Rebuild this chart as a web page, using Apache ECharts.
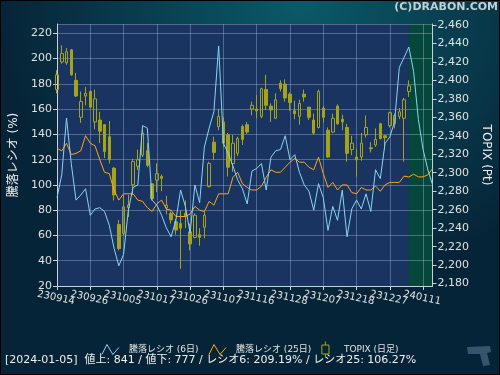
<!DOCTYPE html>
<html>
<head>
<meta charset="utf-8">
<title>騰落レシオ</title>
<script src="https://cdn.jsdelivr.net/npm/echarts@6/dist/echarts.min.js"></script>
<style>
  html, body { margin: 0; padding: 0; background: #062437; }
  #chart { width: 500px; height: 375px; }
</style>
</head>
<body>
<div id="chart"></div>
<script>
// trading days (yymmdd)
const dates = [
  '230914', '230915', '230919', '230920', '230921', '230922', '230925', '230926', '230927', '230928',
  '230929', '231002', '231003', '231004', '231005', '231006', '231010', '231011', '231012', '231013',
  '231016', '231017', '231018', '231019', '231020', '231023', '231024', '231025', '231026', '231027',
  '231030', '231031', '231101', '231102', '231106', '231107', '231108', '231109', '231110', '231113',
  '231114', '231115', '231116', '231117', '231120', '231121', '231122', '231124', '231127', '231128',
  '231129', '231130', '231201', '231204', '231205', '231206', '231207', '231208', '231211', '231212',
  '231213', '231214', '231215', '231218', '231219', '231220', '231221', '231222', '231225', '231226',
  '231227', '231228', '231229', '240104', '240105', '240109', '240110', '240111', '240112', '240115'
]

// 騰落レシオ (6日)
const ratio6 = [
  90, 108, 153, 117, 88, 92, 97, 76, 81, 82,
  79, 68, 50, 36, 45, 80, 98, 100, 147, 145,
  88, 84, 76, 66, 59, 72, 96, 83, 62, 100,
  86, 130, 145, 158, 210, 133, 125, 115, 104, 97,
  85, 111, 113, 117, 96, 122, 127, 128, 139, 120,
  124, 110, 100, 95, 80, 101, 90, 64, 83, 72,
  96, 59, 81, 88, 81, 93, 79, 112, 105, 133,
  138, 150, 193, 201, 209.19, 190, 152, 128, 112, 100
]

// 騰落レシオ (25日)
const ratio25 = [
  129, 127, 133, 124, 125, 127, 139, 133, 131, 120,
  110, 109, 96, 88, 93, 93, 93, 88, 87, 82,
  79, 85, 88, 81, 80, 75, 75, 75, 77, 83,
  80, 79, 87, 84, 93, 93, 93, 106, 110, 101,
  98, 96, 96, 99, 106, 112, 110, 110, 114, 118,
  121, 118, 118, 114, 112, 122, 109, 98, 102, 96,
  100, 100, 94, 93, 98, 96, 96, 99, 95, 100,
  102, 102, 102, 107, 106.27, 108.5, 106.4, 106.4, 108, 113
]

// TOPIX (日足)
const topixOpen = [
  2390, 2420, 2419, 2433, 2400, 2360, 2383, 2388, 2355, 2357,
  2352, 2339, 2305, 2244, 2234, 2262, 2287, 2307, 2319, 2324,
  2288, 2292, 2296, 2262, 2256, 2247, 2245, 2256, 2236, 2230,
  2233, 2241, 2285, 2333, 2350, 2355, 2341, 2310, 2321, 2350,
  2352, 2369, 2369, 2361, 2390, 2372, 2359, 2397, 2396, 2385,
  2367, 2361, 2385, 2371, 2357, 2349, 2370, 2346, 2344, 2372,
  2358, 2349, 2325, 2317, 2317, 2341, 2327, 2330, 2353, 2340,
  2351, 2353, 2361, 2359, 2388
]
const topixClose = [
  2406, 2429, 2431, 2406, 2383, 2377, 2386, 2371, 2380, 2345,
  2323, 2314, 2276, 2218, 2263, 2265, 2312, 2314, 2343, 2308,
  2272, 2299, 2294, 2265, 2249, 2238, 2240, 2253, 2223, 2254,
  2230, 2254, 2310, 2322, 2361, 2332, 2306, 2332, 2337, 2336,
  2344, 2373, 2367, 2391, 2373, 2368, 2379, 2391, 2381, 2376,
  2364, 2375, 2382, 2360, 2343, 2388, 2360, 2317, 2359, 2353,
  2355, 2321, 2332, 2314, 2332, 2349, 2326, 2336, 2337, 2338,
  2365, 2362, 2366, 2379, 2394
]
const topixLow = [
  2386, 2418, 2417, 2405, 2382, 2354, 2373, 2370, 2347, 2332,
  2316, 2310, 2270, 2216, 2232, 2252, 2276, 2303, 2317, 2306,
  2270, 2279, 2280, 2255, 2245, 2233, 2196, 2240, 2216, 2229,
  2221, 2229, 2284, 2314, 2346, 2328, 2296, 2301, 2318, 2330,
  2342, 2362, 2359, 2359, 2368, 2355, 2358, 2388, 2377, 2367,
  2358, 2352, 2377, 2357, 2341, 2348, 2355, 2316, 2343, 2352,
  2346, 2312, 2319, 2296, 2313, 2338, 2322, 2328, 2336, 2325,
  2349, 2348, 2358, 2312, 2382
]
const topixHigh = [
  2411, 2438, 2435, 2434, 2408, 2388, 2393, 2389, 2390, 2366,
  2352, 2356, 2306, 2249, 2276, 2276, 2315, 2325, 2347, 2332,
  2288, 2310, 2298, 2275, 2258, 2250, 2259, 2270, 2245, 2256,
  2240, 2258, 2312, 2339, 2369, 2360, 2343, 2341, 2339, 2352,
  2355, 2377, 2384, 2392, 2406, 2375, 2386, 2400, 2401, 2387,
  2378, 2379, 2390, 2371, 2364, 2390, 2372, 2349, 2364, 2374,
  2363, 2353, 2340, 2326, 2343, 2362, 2333, 2348, 2354, 2341,
  2366, 2364, 2370, 2381, 2400
]

const lastDate = '240105'
const infoText = '[2024-01-05]  値上: 841 / 値下: 777 / レシオ6: 209.19% / レシオ25: 106.27%'

const candles = topixOpen.map((o, i) => [o, topixClose[i], topixLow[i], topixHigh[i]])

const font = "'DejaVu Sans', 'Noto Sans CJK JP'"
const axisColor = '#c9d1d8'
const gridLine = 'rgba(190, 205, 230, 0.35)'
const olive = '#a4a41c'
// grid line every 7 trading days; labels split over two axes so ECharts doesn't drop overlapping ones
const every7 = (i) => i % 7 === 0
const evenLabel = (i) => i % 14 === 0
const oddLabel = (i) => i % 14 === 7

const xLabel = {
  rotate: -12, align: 'center', verticalAlign: 'top', margin: 7,
  color: '#e0e0e0', fontSize: 10, fontFamily: 'DejaVu Sans'
}

var chart = echarts.init(document.getElementById('chart'))
let option = {
  animation: false,
  backgroundColor: {
    type: 'radial', x: 0.6, y: 0, r: 0.8,
    colorStops: [{ offset: 0, color: '#0b5a69' }, { offset: 1, color: '#062437' }]
  },
  grid: {
    left: 57, right: 62, top: 24, bottom: 89,
    show: true, backgroundColor: '#1a3462', borderWidth: 0
  },
  legend: {
    left: 'center',
    top: 336,
    itemWidth: 17,
    itemHeight: 16,
    itemGap: 10,
    textStyle: { color: '#e2e2e2', fontSize: 9, fontFamily: font, padding: [0, 0, 0, 5] },
    data: [
      { name: '騰落レシオ (6日)', icon: 'path://M0,10L5,0L11,10L17,3', itemStyle: { color: 'rgba(0,0,0,0)', borderColor: '#88d4f4', borderWidth: 1 } },
      { name: '騰落レシオ (25日)', icon: 'path://M0,10L5,0L11,10L17,3', itemStyle: { color: 'rgba(0,0,0,0)', borderColor: '#ffa414', borderWidth: 1 } },
      { name: 'TOPIX (日足)', icon: 'path://M4,0L4,4M0,4L8,4L8,14L0,14ZM4,14L4,18', itemStyle: { color: 'rgba(0,0,0,0)', borderColor: olive, borderWidth: 1 } }
    ]
  },
  xAxis: [{
    type: 'category',
    data: dates,
    boundaryGap: false,
    z: 2,
    axisLine: { lineStyle: { color: axisColor } },
    axisTick: { show: true, interval: every7, length: 4, lineStyle: { color: axisColor } },
    axisLabel: Object.assign({ interval: evenLabel }, xLabel),
    splitLine: { show: true, interval: every7, lineStyle: { color: gridLine } }
  }, {
    type: 'category',
    data: dates,
    boundaryGap: false,
    position: 'bottom',
    z: 2,
    axisLine: { show: false },
    axisTick: { show: false },
    axisLabel: Object.assign({ interval: oddLabel }, xLabel),
    splitLine: { show: false }
  }],
  yAxis: [{
    type: 'value',
    position: 'left',
    min: 20,
    max: 227.4,
    interval: 20,
    z: 2,
    name: '騰落レシオ (%)',
    nameLocation: 'middle',
    nameGap: 36,
    nameTextStyle: { color: '#eeeeee', fontSize: 12, fontFamily: font },
    axisLine: { show: true, lineStyle: { color: axisColor } },
    axisTick: { show: true, length: 4, lineStyle: { color: axisColor } },
    axisLabel: { showMaxLabel: false, color: '#e0e0e0', fontSize: 11, fontFamily: 'DejaVu Sans', margin: 5 },
    splitLine: { lineStyle: { color: gridLine } }
  }, {
    type: 'value',
    position: 'right',
    min: 2177.4,
    max: 2461,
    splitNumber: 14,
    z: 2,
    name: 'TOPIX (Pt)',
    nameLocation: 'middle',
    nameGap: 43,
    nameRotate: -90,
    nameTextStyle: { color: '#eeeeee', fontSize: 12, fontFamily: font },
    axisLine: { show: true, lineStyle: { color: axisColor } },
    axisTick: { show: true, length: 4, lineStyle: { color: axisColor } },
    axisLabel: {
      showMinLabel: false, showMaxLabel: false,
      color: '#e0e0e0', fontSize: 11, fontFamily: 'DejaVu Sans', margin: 5,
      formatter: v => v.toLocaleString('en-US')
    },
    splitLine: { show: false }
  }],
  series: [{
    name: 'TOPIX (日足)',
    type: 'candlestick',
    yAxisIndex: 1,
    data: candles,
    barWidth: 3,
    z: 3,
    itemStyle: {
      color: 'rgba(0,0,0,0)',
      color0: olive,
      borderColor: olive,
      borderColor0: olive,
      borderWidth: 1
    },
    markArea: {
      silent: true,
      z: 1,
      itemStyle: { color: '#05473a' },
      data: [[{ xAxis: lastDate }, { xAxis: dates[dates.length - 1] }]]
    }
  }, {
    name: '騰落レシオ (25日)',
    type: 'line',
    yAxisIndex: 0,
    data: ratio25,
    symbol: 'none',
    z: 4,
    lineStyle: { color: '#ffa414', width: 1 },
    itemStyle: { color: '#ffa414' }
  }, {
    name: '騰落レシオ (6日)',
    type: 'line',
    yAxisIndex: 0,
    data: ratio6,
    symbol: 'none',
    z: 4,
    lineStyle: { color: '#88d4f4', width: 1 },
    itemStyle: { color: '#88d4f4' }
  }],
  graphic: [{
    type: 'text', right: 2, top: 2,
    style: { text: '(C)DRABON.COM', fill: '#c5cfd5', font: "bold 11px 'DejaVu Sans'" }
  }, {
    type: 'text', left: 5, top: 355,
    style: { text: infoText, fill: '#f0f0f0', font: "11px 'DejaVu Sans', 'Noto Sans CJK JP'" }
  }, {
    type: 'polygon',
    shape: { points: [[467, 347], [490, 346], [491, 352], [487, 353], [490, 365], [483, 366], [480, 354], [468, 354]] },
    style: { fill: '#34556b' }
  }, {
    type: 'rect',
    shape: { x: 0.5, y: 0.5, width: 499, height: 374 },
    style: { fill: 'none', stroke: '#000', lineWidth: 1 }
  }]
}
chart.setOption(option)
</script>
</body>
</html>
